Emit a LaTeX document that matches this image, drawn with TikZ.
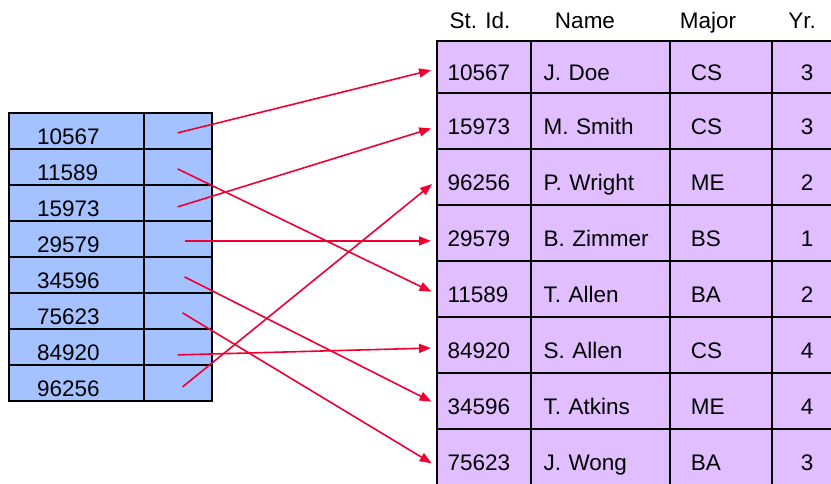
\documentclass[tikz,border=0pt]{standalone}
\usepackage{fontspec}
\setmainfont{Liberation Sans}
\usepackage{tikz}
\usetikzlibrary{arrows.meta}
\definecolor{idxblue}{RGB}{164,194,255}
\definecolor{reclilac}{RGB}{225,190,255}
\definecolor{linkred}{RGB}{240,0,50}

\begin{document}
\begin{tikzpicture}
[x=1pt, y=-1pt, font=\fontsize{22.5}{27}\selectfont,
% STYLES
% The cell style is shared by both tables
cell/.style={rectangle, draw=black, line width=1.8pt, anchor=north west, inner ysep=0pt, text height=28pt, text depth=0pt, align=left},
% The idx style is used for the index on the left
idx/.style={cell, fill=idxblue, minimum height=36pt},
keycol/.style={inner xsep=28pt, text width=78.4pt},
ptrcol/.style={inner xsep=0pt, text width=68pt},
% The rec style is used for the student records on the right
rec/.style={cell, fill=reclilac, minimum height=56pt},
sidcol/.style={inner xsep=10.7pt, text width=72.6pt},
namecol/.style={inner xsep=12.7pt, text width=113.6pt},
majorcol/.style={inner xsep=21pt, text width=60pt},
yrcol/.style={inner xsep=29pt, text width=43pt},
% The head style is used for the column titles
head/.style={anchor=base, inner sep=0pt},
% The link style is used for the pointers
link/.style={-{Triangle[length=12pt,width=9pt]}, line width=1.6pt, linkred, shorten >=5pt}]

\useasboundingbox (0,0) rectangle (831,483);
\clip (0,0) rectangle (831,483);

% Draw index
\node [idx, keycol] (key-10567) at (8.3,112) {10567};
\node [idx, ptrcol] (ptr-10567) at (142.7,112) {};
\node [idx, keycol] (key-11589) at (8.3,148) {11589};
\node [idx, ptrcol] (ptr-11589) at (142.7,148) {};
\node [idx, keycol] (key-15973) at (8.3,184) {15973};
\node [idx, ptrcol] (ptr-15973) at (142.7,184) {};
\node [idx, keycol] (key-29579) at (8.3,220) {29579};
\node [idx, ptrcol] (ptr-29579) at (142.7,220) {};
\node [idx, keycol] (key-34596) at (8.3,256) {34596};
\node [idx, ptrcol] (ptr-34596) at (142.7,256) {};
\node [idx, keycol] (key-75623) at (8.3,292) {75623};
\node [idx, ptrcol] (ptr-75623) at (142.7,292) {};
\node [idx, keycol] (key-84920) at (8.3,328) {84920};
\node [idx, ptrcol] (ptr-84920) at (142.7,328) {};
\node [idx, keycol] (key-96256) at (8.3,364) {96256};
\node [idx, ptrcol] (ptr-96256) at (142.7,364) {};

% Draw column titles
\node [head] (h-stid) at (480,28) {St. Id.};
\node [head] (h-name) at (585,28) {Name};
\node [head] (h-major) at (708,28) {Major};
\node [head] (h-yr) at (802,28) {Yr.};

% Draw records
\node [rec, sidcol, minimum height=52pt] (rec-10567) at (436,40) {10567};
\node [rec, namecol, minimum height=52pt] (name-10567) at (530,40) {J. Doe};
\node [rec, majorcol, minimum height=52pt] (major-10567) at (669,40) {CS};
\node [rec, yrcol, minimum height=52pt] (yr-10567) at (771,40) {3};

\node [rec, sidcol] (rec-15973) at (436,92) {15973};
\node [rec, namecol] (name-15973) at (530,92) {M. Smith};
\node [rec, majorcol] (major-15973) at (669,92) {CS};
\node [rec, yrcol] (yr-15973) at (771,92) {3};

\node [rec, sidcol] (rec-96256) at (436,148) {96256};
\node [rec, namecol] (name-96256) at (530,148) {P. Wright};
\node [rec, majorcol] (major-96256) at (669,148) {ME};
\node [rec, yrcol] (yr-96256) at (771,148) {2};

\node [rec, sidcol] (rec-29579) at (436,204) {29579};
\node [rec, namecol] (name-29579) at (530,204) {B. Zimmer};
\node [rec, majorcol] (major-29579) at (669,204) {BS};
\node [rec, yrcol] (yr-29579) at (771,204) {1};

\node [rec, sidcol] (rec-11589) at (436,260) {11589};
\node [rec, namecol] (name-11589) at (530,260) {T. Allen};
\node [rec, majorcol] (major-11589) at (669,260) {BA};
\node [rec, yrcol] (yr-11589) at (771,260) {2};

\node [rec, sidcol] (rec-84920) at (436,316) {84920};
\node [rec, namecol] (name-84920) at (530,316) {S. Allen};
\node [rec, majorcol] (major-84920) at (669,316) {CS};
\node [rec, yrcol] (yr-84920) at (771,316) {4};

\node [rec, sidcol] (rec-34596) at (436,372) {34596};
\node [rec, namecol] (name-34596) at (530,372) {T. Atkins};
\node [rec, majorcol] (major-34596) at (669,372) {ME};
\node [rec, yrcol] (yr-34596) at (771,372) {4};

\node [rec, sidcol] (rec-75623) at (436,428) {75623};
\node [rec, namecol] (name-75623) at (530,428) {J. Wong};
\node [rec, majorcol] (major-75623) at (669,428) {BA};
\node [rec, yrcol] (yr-75623) at (771,428) {3};

% Draw the pointers from index to records
\path[link]
([shift={(0,2)}]ptr-10567.center) edge ([shift={(0,2)}]rec-10567.west)
([shift={(0,2)}]ptr-11589.center) edge ([shift={(0,5)}]rec-11589.west)
([shift={(0,4)}]ptr-15973.center) edge ([shift={(0,6)}]rec-15973.west)
([shift={(7,2)}]ptr-29579.center) edge ([shift={(0,8)}]rec-29579.west)
([shift={(7,2)}]ptr-34596.center) edge ([shift={(0,3)}]rec-34596.west)
([shift={(5,2)}]ptr-75623.center) edge ([shift={(0,9)}]rec-75623.west)
([shift={(0,8)}]ptr-84920.center) edge ([shift={(0,3)}]rec-84920.west)
([shift={(5,4)}]ptr-96256.center) edge ([shift={(0,4)}]rec-96256.west);

\end{tikzpicture}
\end{document}
